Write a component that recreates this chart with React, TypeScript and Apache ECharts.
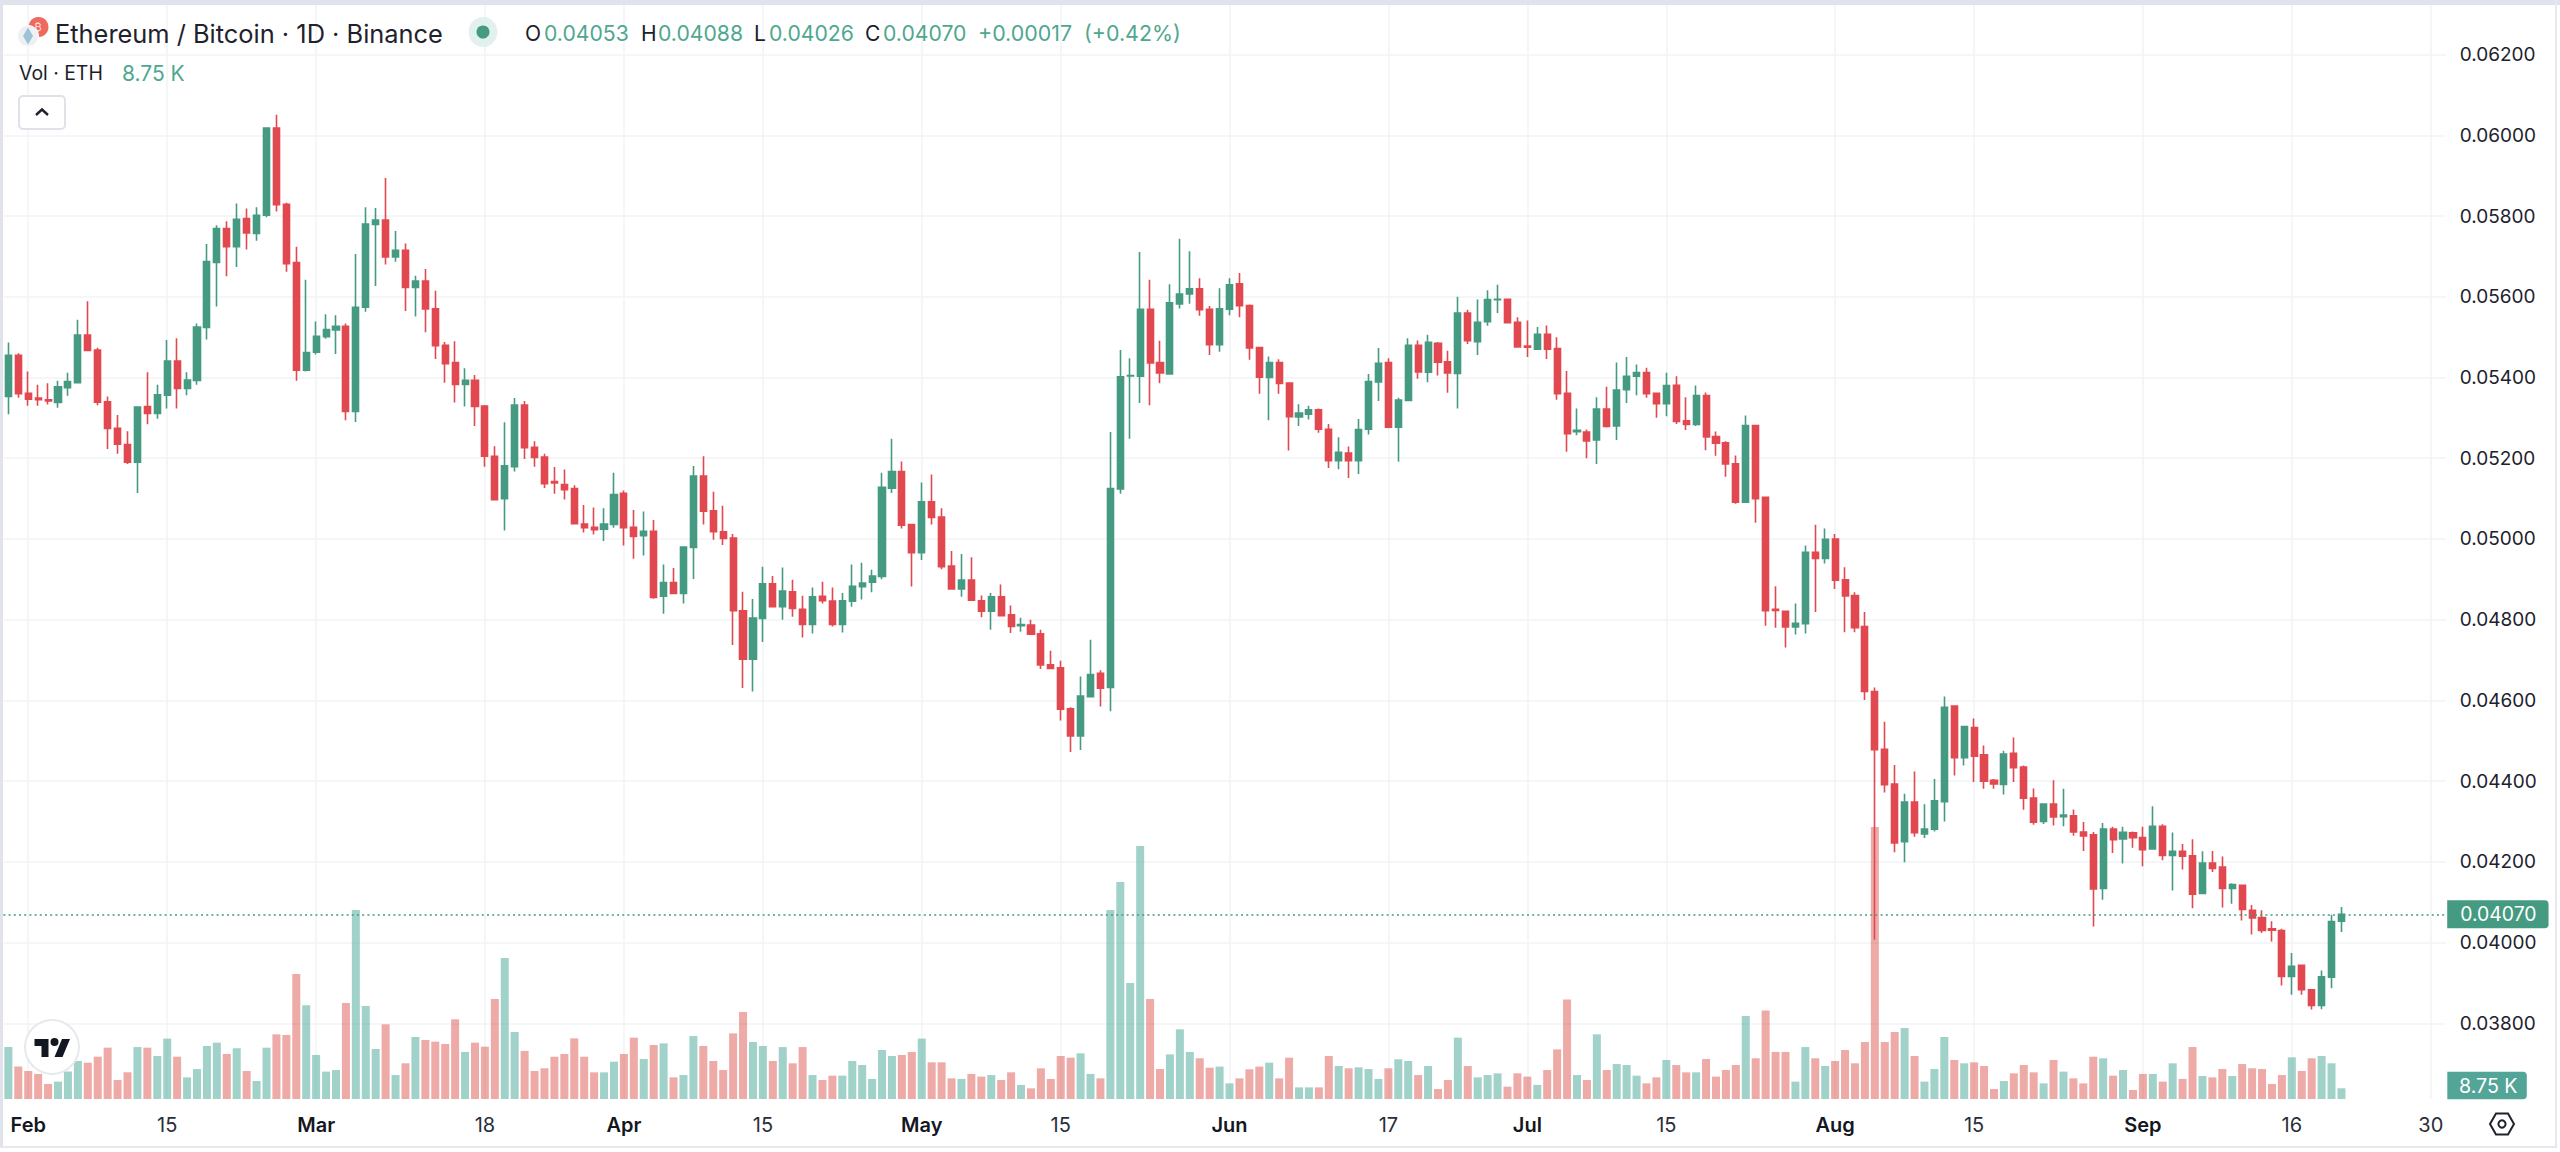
import React, { useEffect, useRef } from "react";
import * as echarts from "echarts";

const opens = [
  5353,5455,5361,5349,5345,5338,5375,5387,5505,5468,5340,5274,5234,5190,5328,5311,5356,5441,5373,5393,5524,5685,5769,5724,5794,5757,5802,6018,5829,5685,5418,5463,5501,5518,5527,5316,5574,5779,5790,5699,5715,5623,5639,5570,5480,5437,5383,5393,5329,5205,
  5100,5179,5332,5227,5203,5142,5135,5125,5037,5029,5024,5036,5113,5029,5008,5019,4858,4892,4865,4979,5156,5070,5018,5002,4822,4702,4803,4889,4832,4869,4826,4788,4858,4846,4788,4846,4882,4893,4907,5126,5167,5036,4966,5092,5054,4933,4876,4898,4847,4821,
  4857,4812,4785,4787,4765,4688,4681,4579,4512,4609,4667,4632,5124,5404,5403,5569,5437,5409,5582,5607,5620,5569,5481,5569,5632,5578,5474,5400,5437,5386,5302,5309,5320,5272,5194,5213,5194,5272,5389,5437,5277,5343,5480,5413,5485,5439,5410,5560,5489,5538,
  5593,5594,5537,5478,5470,5507,5472,5361,5266,5265,5245,5322,5280,5370,5403,5412,5361,5335,5381,5293,5284,5355,5254,5238,5186,5091,5281,5103,4826,4821,4782,4790,4967,4952,5000,4899,4860,4783,4622,4479,4393,4250,4348,4269,4281,4349,4586,4458,4533,4465,
  4402,4392,4469,4435,4358,4300,4343,4312,4314,4274,4267,4134,4281,4257,4272,4260,4232,4288,4216,4226,4215,4122,4197,4187,4134,4142,4080,4062,4034,4030,3916,3944,3883,3844,3914,4053,
];
const highs = [
  5487,5460,5415,5382,5386,5392,5412,5543,5589,5474,5353,5307,5267,5329,5413,5382,5493,5497,5413,5534,5731,5777,5787,5831,5819,5822,6020,6051,5833,5724,5642,5539,5557,5554,5534,5706,5822,5820,5894,5763,5732,5652,5669,5615,5488,5490,5423,5406,5332,5230,
  5289,5349,5342,5242,5211,5178,5172,5133,5084,5078,5076,5164,5120,5072,5068,5047,4937,4928,4982,5181,5205,5117,5082,5012,4869,4851,4931,4908,4929,4899,4859,4880,4894,4880,4866,4937,4941,4924,5164,5248,5192,5037,5140,5160,5076,4970,4963,4955,4860,4866,
  4887,4835,4805,4800,4775,4723,4698,4583,4659,4750,4675,5265,5468,5448,5711,5642,5491,5631,5744,5713,5646,5577,5621,5646,5659,5581,5474,5452,5445,5386,5334,5330,5323,5285,5252,5229,5297,5409,5473,5448,5350,5497,5492,5506,5488,5466,5600,5568,5593,5616,
  5630,5596,5549,5541,5525,5529,5500,5416,5323,5271,5351,5377,5437,5451,5432,5424,5363,5412,5403,5351,5380,5363,5266,5242,5207,5306,5281,5103,4883,4821,4840,4984,5035,5026,5012,4930,4868,4819,4632,4547,4440,4369,4424,4343,4405,4610,4586,4535,4555,4488,
  4405,4475,4508,4439,4382,4345,4402,4381,4330,4299,4274,4296,4287,4287,4275,4287,4338,4293,4273,4244,4256,4226,4227,4213,4147,4144,4093,4080,4053,4034,3974,3946,3884,3931,4069,4088,
];
const lows = [
  5309,5350,5330,5330,5333,5325,5355,5385,5467,5331,5223,5211,5186,5114,5284,5298,5323,5323,5356,5382,5494,5576,5651,5674,5717,5739,5797,5811,5662,5392,5415,5457,5496,5458,5294,5290,5563,5627,5680,5687,5565,5551,5512,5446,5387,5338,5328,5280,5179,5096,
  5021,5167,5198,5179,5126,5112,5098,5038,5016,5011,4995,5028,4984,4951,4959,4852,4815,4865,4840,4901,5036,4998,4985,4737,4631,4622,4745,4832,4800,4807,4756,4766,4840,4783,4768,4832,4850,4868,4900,5114,5026,4882,4948,5036,4925,4874,4857,4848,4806,4775,
  4810,4767,4770,4764,4678,4678,4550,4472,4477,4607,4585,4573,5112,5248,5337,5331,5386,5407,5571,5583,5553,5456,5464,5554,5549,5444,5360,5294,5360,5219,5280,5296,5263,5176,5173,5151,5161,5259,5342,5274,5191,5342,5397,5388,5405,5362,5323,5483,5456,5528,
  5560,5536,5474,5451,5470,5446,5345,5216,5257,5200,5186,5276,5245,5337,5356,5350,5300,5304,5285,5270,5280,5220,5206,5154,5087,5090,5040,4785,4780,4731,4763,4766,4819,4939,4876,4769,4769,4601,4007,4372,4224,4199,4262,4259,4275,4300,4414,4439,4398,4381,
  4381,4367,4398,4329,4292,4294,4290,4288,4265,4227,4040,4106,4222,4196,4235,4189,4231,4204,4129,4181,4085,4122,4175,4087,4096,4055,4020,4024,4003,3894,3871,3871,3834,3835,3887,4026,
];
const closes = [
  5455,5360,5346,5345,5342,5377,5390,5505,5467,5339,5274,5235,5190,5327,5311,5357,5441,5373,5394,5525,5687,5769,5724,5792,5758,5802,6018,5828,5682,5418,5462,5502,5519,5527,5316,5574,5780,5790,5699,5715,5623,5639,5570,5479,5434,5383,5393,5328,5205,5097,
  5181,5332,5226,5202,5137,5139,5122,5038,5028,5023,5037,5110,5028,5006,5019,4855,4892,4865,4980,5156,5069,5018,5001,4822,4702,4804,4889,4832,4871,4828,4788,4857,4847,4788,4847,4883,4891,4908,5128,5167,5034,4966,5092,5053,4931,4876,4898,4848,4821,4857,
  4810,4783,4788,4764,4688,4679,4578,4512,4611,4664,4630,5125,5402,5405,5569,5436,5411,5585,5607,5620,5568,5481,5570,5630,5578,5473,5401,5437,5385,5303,5312,5320,5272,5194,5215,5194,5271,5390,5435,5277,5344,5480,5414,5487,5438,5411,5560,5491,5537,5593,
  5594,5536,5476,5475,5507,5470,5360,5261,5269,5243,5322,5279,5369,5403,5412,5360,5335,5380,5291,5284,5355,5253,5237,5186,5091,5281,5100,4822,4823,4782,4791,4967,4952,4999,4898,4859,4780,4622,4478,4391,4247,4348,4272,4281,4351,4583,4458,4535,4462,4400,
  4393,4467,4433,4358,4298,4343,4311,4316,4274,4264,4133,4281,4255,4273,4260,4230,4288,4216,4226,4214,4120,4197,4184,4134,4144,4082,4061,4030,4031,3916,3941,3883,3844,3915,4052,4070,
];
// Volume in thousands of ETH
const volumes = [
  42.5,26.5,22.9,20.5,12.3,14.2,22.4,31.1,29.7,34.6,42.0,15.5,21.8,42.5,42.0,35.2,49.4,34.6,17.7,24.5,43.4,46.1,36.8,41.5,22.9,14.7,42.0,52.9,52.4,102.3,76.6,36.0,22.4,23.7,78.5,154.6,76.1,40.9,61.1,19.6,29.2,50.7,48.3,46.9,45.0,65.2,38.5,46.1,42.8,81.8,
  115.4,54.8,39.3,22.9,25.1,34.6,36.8,49.6,34.6,21.8,21.8,30.5,36.8,50.2,32.7,44.2,45.5,17.7,19.6,51.5,43.4,31.1,23.7,53.7,71.2,46.6,43.4,31.1,42.5,29.2,42.5,19.6,15.5,19.1,19.1,31.1,27.8,16.4,40.1,35.2,36.0,38.5,49.4,30.0,30.0,16.9,16.4,20.5,18.3,19.6,
  15.5,21.8,11.5,8.7,25.1,16.4,35.2,33.8,37.4,20.5,16.9,154.6,177.5,94.9,207.0,81.8,24.5,36.5,57.0,38.5,33.3,25.6,26.5,12.8,16.9,24.3,26.5,29.7,16.9,33.8,9.5,9.5,9.5,35.2,27.0,25.1,25.9,24.5,16.4,25.1,32.5,31.1,19.6,27.0,8.2,15.5,50.2,27.0,17.7,19.6,
  21.0,10.1,21.0,18.3,11.5,23.7,40.6,81.5,19.6,15.5,52.9,23.7,28.6,27.8,19.1,12.8,17.7,31.9,27.8,21.8,21.8,32.7,18.3,23.7,27.8,67.9,33.3,72.5,38.5,38.5,14.2,42.5,33.3,27.0,31.1,40.1,29.2,46.6,222.5,46.6,54.8,58.1,35.2,14.2,24.5,50.7,31.9,29.2,30.0,27.0,
  8.2,14.7,21.0,27.8,21.8,12.8,31.9,22.4,16.9,12.8,34.6,33.3,19.1,23.7,7.4,20.5,20.5,14.2,29.2,16.4,42.5,18.8,17.7,24.5,18.8,28.6,25.1,24.5,12.3,19.6,34.1,22.9,33.3,35.2,29.2,8.75,
];
const priceTicks = [0.038,0.04,0.042,0.044,0.046,0.048,0.05,0.052,0.054,0.056,0.058,0.06,0.062];
// day positions since 30 Jan, with the time-axis label drawn there
const dayTicks = [2,16,31,48,62,76,92,106,123,139,153,167,184,198,215,230,244];
const dayLabels = ["Feb","15","Mar","18","Apr","15","May","15","Jun","17","Jul","15","Aug","15","Sep","16","30"];
const lastPrice = 0.0407;
const legendQuote = [
  { k: "O", kx: 525, v: "0.04053", vx: 544 },
  { k: "H", kx: 641, v: "0.04088", vx: 658 },
  { k: "L", kx: 754, v: "0.04026", vx: 769 },
  { k: "C", kx: 865, v: "0.04070", vx: 883 },
];

const UP = "#459a82";
const DOWN = "#e1484f";
const INK = "#1a1e29";
const LEG = "#4fa78f";
const GRID = "#f2f3f5";
const FONT = "Inter, 'Noto Sans', sans-serif";

echarts.graphic.registerShape(
  "tvLogo",
  echarts.graphic.extendPath(
    "M14 22H7V11H0V4h14v18zM28 22h-8l7.5-18h8L28 22zM16 7a4 4 0 1 0 8 0a4 4 0 1 0 -8 0z",
    {}
  )
);

function txt(text: string, x: number, y: number, fill: string, size: number, extra: any = {}) {
  return {
    type: "text",
    z: 100,
    silent: true,
    style: { text, x, y, fill, fontSize: size, fontFamily: FONT, verticalAlign: "middle", align: "left", ...extra },
  };
}

export default function App() {
  const ref = useRef<HTMLDivElement>(null);
  useEffect(() => {
    const chart = echarts.init(ref.current!, null, { renderer: "svg" });
    const candles = opens.map((o, i) => [i, o / 1e5, closes[i] / 1e5, lows[i] / 1e5, highs[i] / 1e5]);
    const volBars = volumes.map((v, i) => ({
      value: [i, v],
      itemStyle: { color: closes[i] >= opens[i] ? "rgba(65,166,150,0.5)" : "rgba(220,85,80,0.5)" },
    }));
    const graphic: any[] = [
      { type: "rect", z: 90, silent: true, shape: { x: 0, y: 0, width: 2560, height: 5 }, style: { fill: "#e0e3eb" } },
      { type: "rect", z: 90, silent: true, shape: { x: 0, y: 0, width: 3, height: 1147 }, style: { fill: "#e0e3eb" } },
      { type: "rect", z: 90, silent: true, shape: { x: 0, y: 1146, width: 2556, height: 2 }, style: { fill: "#e6e8ee" } },
      { type: "rect", z: 90, silent: true, shape: { x: 2555, y: 0, width: 2, height: 1148 }, style: { fill: "#e6e8ee" } },
      // symbol icons
      { type: "circle", z: 100, silent: true, shape: { cx: 38.5, cy: 27, r: 10 }, style: { fill: "#ee6a5f" } },
      txt("₿", 34.5, 27, "#fbdcd8", 11),
      { type: "circle", z: 101, silent: true, shape: { cx: 28, cy: 36, r: 10.5 }, style: { fill: "#eef1f4", stroke: "#ffffff", lineWidth: 1 } },
      { type: "polygon", z: 102, silent: true, shape: { points: [[28, 27.5], [33, 36], [28, 44.5], [23, 36]] }, style: { fill: "#9fc3d6" } },
      txt("Ethereum / Bitcoin · 1D · Binance", 55, 33, "#1e222d", 25.4),
      { type: "ellipse", z: 100, silent: true, shape: { cx: 483, cy: 32, rx: 14.5, ry: 15 }, style: { fill: "#e3f1ee" } },
      { type: "circle", z: 101, silent: true, shape: { cx: 483, cy: 32, r: 6.5 }, style: { fill: "#459a82" } },
      ...legendQuote.flatMap((q) => [txt(q.k, q.kx, 33, INK, 21), txt(q.v, q.vx, 33, LEG, 21.2)]),
      txt("+0.00017", 978, 33, LEG, 21.4),
      txt("(+0.42%)", 1084, 33, LEG, 21.4),
      txt("Vol · ETH", 19, 73, INK, 19.4),
      txt("8.75 K", 122, 73, LEG, 21),
      { type: "rect", z: 100, silent: true, shape: { x: 19, y: 96, width: 46, height: 33, r: 4 }, style: { fill: "#fff", stroke: "#dfe2e8", lineWidth: 2 } },
      { type: "polyline", z: 101, silent: true, shape: { points: [[36, 115], [42, 109.5], [48, 115]] }, style: { fill: "none", stroke: "#1e222d", lineWidth: 2.4 } },
      // TradingView badge
      { type: "circle", z: 100, silent: true, shape: { cx: 52, cy: 1047, r: 27 }, style: { fill: "#fff", stroke: "#e7e9ee", lineWidth: 2 } },
      { type: "tvLogo", z: 101, silent: true, x: 34.5, y: 1035, style: { fill: "#131722" } },
      // volume tag
      { type: "rect", z: 100, silent: true, shape: { x: 2447.3, y: 1071.7, width: 79.5, height: 27.6, r: [0, 4, 4, 0] }, style: { fill: "#53a598" } },
      txt("8.75 K", 2459, 1086, "#fff", 19.6),
      // settings hexagon
      { type: "polygon", z: 100, silent: true, shape: { points: [[2490, 1124], [2496, 1113.5], [2508, 1113.5], [2514, 1124], [2508, 1134.5], [2496, 1134.5]] }, style: { fill: "none", stroke: "#1e222d", lineWidth: 2 } },
      { type: "circle", z: 100, silent: true, shape: { cx: 2502, cy: 1124, r: 3.6 }, style: { fill: "none", stroke: "#1e222d", lineWidth: 2 } },
    ];
    chart.setOption({
      animation: false,
      backgroundColor: "#ffffff",
      grid: { left: 3.4, top: 5, width: 2442.3, height: 1094, containLabel: false },
      xAxis: {
        type: "value",
        min: -0.5,
        max: 245.5,
        axisLine: { show: false },
        axisTick: { show: false, customValues: dayTicks },
        splitLine: { show: true, lineStyle: { color: GRID, width: 1.5 } },
        axisLabel: {
          customValues: dayTicks,
          margin: 16,
          hideOverlap: false,
          formatter: (v: number) => {
            const s = dayLabels[dayTicks.indexOf(Math.round(v))] ?? "";
            return /^[A-Z]/.test(s) ? `{m|${s}}` : `{d|${s}}`;
          },
          rich: {
            m: { fontFamily: FONT, fontSize: 20, fontWeight: 600, color: "#131722" },
            d: { fontFamily: FONT, fontSize: 20, fontWeight: 400, color: "#2a2e39" },
          },
        },
      },
      yAxis: [
        {
          type: "value",
          position: "right",
          min: 0.036125,
          max: 0.063229,
          axisLine: { show: false },
          axisTick: { show: false, customValues: priceTicks },
          splitLine: { show: true, lineStyle: { color: GRID, width: 1.5 } },
          axisLabel: {
            customValues: priceTicks,
            margin: 14,
            align: "left",
            color: "#1e222d",
            fontFamily: FONT,
            fontSize: 19,
            formatter: (v: number) => v.toFixed(5),
          },
        },
        { type: "value", min: 0, max: 895, show: false, splitLine: { show: false } },
      ],
      series: [
        {
          type: "bar",
          name: "Vol",
          yAxisIndex: 1,
          barWidth: 8,
          z: 2,
          data: volBars,
        },
        {
          type: "candlestick",
          name: "ETHBTC",
          barWidth: 6.6,
          z: 3,
          encode: { x: 0, y: [1, 2, 3, 4] },
          itemStyle: { color: UP, color0: DOWN, borderColor: UP, borderColor0: DOWN, borderWidth: 1.6 },
          data: candles,
          markLine: {
            silent: true,
            symbol: "none",
            animation: false,
            precision: 5,
            lineStyle: { color: UP, type: [2, 3.2], width: 1.6 },
            label: {
              show: true,
              position: "end",
              distance: 1.5,
              formatter: () => lastPrice.toFixed(5),
              backgroundColor: UP,
              color: "#fff",
              fontFamily: FONT,
              fontSize: 19.4,
              padding: [5, 12, 4, 13],
              borderRadius: [0, 4, 4, 0],
            },
            data: [{ yAxis: lastPrice }],
          },
        },
      ],
      graphic,
    });
    return () => chart.dispose();
  }, []);
  return <div ref={ref} style={{ position: "fixed", left: 0, top: 0, width: 2560, height: 1152, background: "#fff" }} />;
}
